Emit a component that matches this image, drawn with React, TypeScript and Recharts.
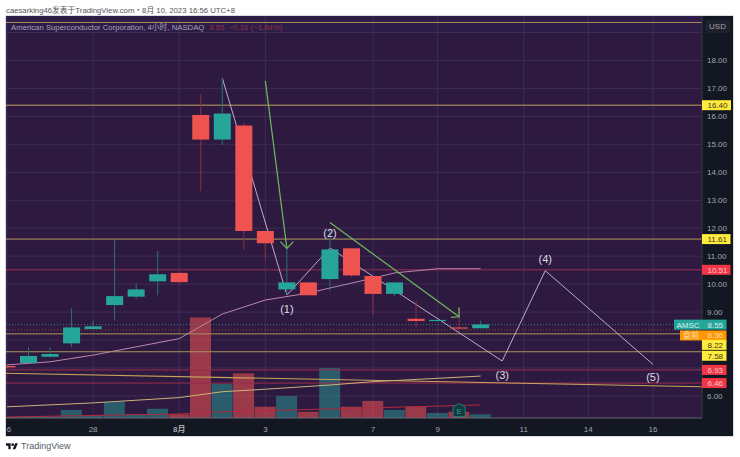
import React from "react";
import { ComposedChart, Bar, Line, XAxis, YAxis, CartesianGrid, ReferenceDot } from "recharts";

const W = 740, H = 457;
const FONT = '"Liberation Sans", "Noto Sans CJK SC", sans-serif';

const sessions = [0,1,2,3,4,5,6,7,8,9,10,11,12,13,14,15,16,17,18,19,20,21,22];
const opens = [7.07,7.18,7.40,7.88,8.39,9.25,9.55,10.10,10.40,16.05,15.17,15.67,11.90,9.81,10.06,10.18,11.28,10.29,9.65,8.76,8.68,8.45,8.42];
const closes = [7.02,7.43,7.50,8.45,8.49,9.57,9.81,10.35,10.07,15.17,16.10,11.90,11.46,10.06,9.60,11.24,10.31,9.65,10.06,8.68,8.72,8.41,8.56];
const highs = [7.07,7.74,7.74,9.13,8.69,11.58,10.03,11.18,10.44,16.79,17.37,15.77,11.90,11.33,10.06,11.94,11.30,10.29,10.06,9.41,8.73,9.14,8.69];
const lows = [7.02,7.18,7.38,7.74,8.39,8.69,9.46,9.60,10.00,13.32,14.98,11.22,10.84,9.61,9.60,9.75,10.25,8.89,9.57,8.45,8.67,8.30,8.42];
const volumes = [0.05,0.07,0.07,0.40,0.12,0.79,0.20,0.46,0.18,5.0,1.70,2.22,0.56,1.09,0.31,2.48,0.56,0.85,0.40,0.56,0.25,0.31,0.18];

const xTicks = [0,4,8,12,17,20,24,27,30];
const xLabels = ["6","28","8月","3","7","9","11","14","16"];
const yTicks = [6,9,10,11,12,13,14,15,16,17,18];
const yGrid = [6,7,8,9,10,11,12,13,14,15,16,17,18,19];

const maFastI = [0,2,4,8,10,12,14,15,17,18,20,22];
const maFastP = [7.11,7.22,7.46,8.05,8.93,9.43,9.68,9.86,10.21,10.40,10.55,10.55];
const maSlowI = [0,4,8,10,12,15,17,22];
const maSlowP = [5.61,5.75,5.94,6.15,6.24,6.39,6.51,6.71];
const volMaI = [0,8,10,15,22];
const volMaV = [0.05,0.2,0.31,0.45,0.65];
const trendI = [-0.05,32.28];
const trendP = [6.81,6.33];
const waveI = [10,13,15,23,25,30];
const waveP = [17.37,9.61,11.29,7.25,10.48,7.13];
const arrow1I = [12,13];
const arrow1P = [17.27,11.28];
const head1I = [12.7,13,13.3];
const head1P = [11.52,11.28,11.52];
const arrow2I = [15,21];
const arrow2P = [12.20,8.83];
const head2I = [20.99,21,20.62];
const head2P = [9.17,8.83,8.81];

const waveLabelI = [13,15,23,25,30];
const waveLabelP = [9.10,11.84,6.74,10.88,6.68];
const waveLabelT = ["(1)","(2)","(3)","(4)","(5)"];

const levelP = [19.36,16.40,11.61,10.51,8.22,7.58,6.93,6.46];
const levelC = ["#ab915c","#bda05c","#b0965c","#9c2c4e","#ab925c","#ab925c","#9c2c4e","#9c2c4e"];

const tagP = [16.40,11.61,10.51,8.55,8.36,8.22,7.58,6.93,6.46];
const tagT = ["16.40","11.61","10.51","8.55","8.36","8.22","7.58","6.93","6.46"];
const tagBg = ["#ffeb3b","#ffeb3b","#f23645","#26a69a","#ff9800","#ffeb3b","#ffeb3b","#f23645","#f23645"];
const tagFg = ["#3a3520","#3a3520","#f3c9cd","#d5efec","#fbdcb4","#3a3520","#3a3520","#f3c9cd","#f3c9cd"];
const tagW = [29,28.5,28.5,24.5,24.5,24.5,24.5,24.5,24.5];
const tagShift = [0,0,0,0,5.5,11,4,0,0];
const tagName = ["","","","AMSC","盘前","","","",""];

const candles = sessions.map((i, k) => ({
  i, open: opens[k], close: closes[k], high: highs[k], low: lows[k], vol: volumes[k],
  range: [lows[k], highs[k]],
}));
const zip = (a: number[], b: number[]) => a.map((i, k) => ({ i, p: b[k] }));

const RED = "#ef5350", TEAL = "#26a69a";
const BODY_W = 17;

function Candle(props: any) {
  const { x, y, width, height, payload } = props;
  const o = Number(payload.open), c = Number(payload.close), hp = Number(payload.high), lp = Number(payload.low);
  const hi = Math.min(y, y + height);
  const full = Math.abs(height);
  const k = full / (hp - lp);
  const top = hi + (hp - Math.max(o, c)) * k;
  const h = Math.max(1.2, Math.abs(o - c) * k);
  const up = c >= o;
  const cx = x + (width || 0) / 2;
  return (
    <g>
      <path d={`M${cx} ${hi}V${hi + full}`} stroke={up ? "#2b6f7c" : "#8f2c48"} strokeWidth={1} fill="none" />
      <path d={`M${cx - BODY_W / 2} ${top}h${BODY_W}v${h}h${-BODY_W}Z`} fill={up ? TEAL : RED} stroke="none" />
    </g>
  );
}

function VolBar(props: any) {
  const { x, y, width, height, payload } = props;
  const up = payload.close >= payload.open;
  return <rect x={x} y={y} width={width} height={height} fill={up ? "rgba(38,166,154,0.48)" : "rgba(242,83,80,0.55)"} />;
}

function Tag(props: any) {
  const { cx, cy, k } = props;
  const yc = cy + tagShift[k];
  const bh = 10;
  return (
    <g style={{ fontFamily: FONT }}>
      {tagName[k] ? (
        <g>
          <rect x={cx - (k === 3 ? 28 : 22)} y={yc - bh / 2} width={k === 3 ? 28 : 22} height={bh} fill={tagBg[k]} />
          <text x={cx - (k === 3 ? 14 : 11)} y={yc + 3} fontSize={8} textAnchor="middle" fill={tagFg[k]}>{tagName[k]}</text>
        </g>
      ) : null}
      <rect x={cx} y={yc - bh / 2} width={tagW[k]} height={bh} fill={tagBg[k]} />
      <text x={cx + 5.5} y={yc + 3} fontSize={8} fill={tagFg[k]}>{tagT[k]}</text>
    </g>
  );
}

function XTick(props: any) {
  const { x, y, payload, index } = props;
  const k = xTicks.indexOf(payload.value);
  return (
    <text x={k === 0 ? x + 2 : x} y={y + 6} textAnchor="middle" fontSize={8} fontFamily={FONT}
      fontWeight={xLabels[k] === "8月" ? 700 : 400} fill="#a3a6b0" key={index}>
      {xLabels[k]}
    </text>
  );
}

function EarnBadge(props: any) {
  const { cx, cy } = props;
  const d = `M${cx} ${cy - 7} L${cx + 6} ${cy - 3.5} L${cx + 6} ${cy + 6} L${cx - 6} ${cy + 6} L${cx - 6} ${cy - 3.5} Z`;
  return (
    <g>
      <path d={d} fill="#123a3f" stroke="#1c7f76" strokeWidth={1} />
      <text x={cx} y={cy + 3.2} fontSize={8} textAnchor="middle" fill="#26a69a" fontFamily={FONT}>E</text>
    </g>
  );
}

function WaveLabel(props: any) {
  const { cx, cy, k } = props;
  return <text x={cx} y={cy} fontSize={11} textAnchor="middle" dominantBaseline="central" fill="#dcdce4" fontFamily={FONT}>{waveLabelT[k]}</text>;
}

const thin = { isAnimationActive: false, dot: false, activeDot: false, legendType: "none" as const };

export default function App() {
  const abs = (l: number, t: number, w: number, h: number, extra: any = {}) => ({
    position: "absolute" as const, left: l, top: t, width: w, height: h, ...extra,
  });
  return (
    <div style={abs(0, 0, W, H, { background: "#fff", fontFamily: FONT, overflow: "hidden" })}>
      <div style={{ position: "absolute", left: 6, top: 6, fontSize: 7.75, color: "#555", whiteSpace: "nowrap", lineHeight: "10px" }}>
        caesarking46发表于TradingView.com・8月 10, 2023 16:56 UTC+8
      </div>
      <div style={abs(6, 16, 727, 420, { background: "#2e1a40", boxShadow: "0 0 0 0.5px #b9b7c6" })} />
      <div style={abs(702, 16, 31, 420, { background: "#131722" })} />
      <div style={abs(6, 418, 727, 18, { background: "#131722" })} />
      <div style={abs(6, 16, 696, 16, { background: "rgba(40,35,85,0.35)" })} />
      <ComposedChart
        width={W} height={H} data={candles}
        margin={{ top: 16, right: 7, bottom: 22, left: 6 }}
        style={{ position: "absolute", left: 0, top: 0 }}
      >
        <CartesianGrid yAxisId="price" xAxisId="main" stroke="#43315a" strokeWidth={0.8} horizontalValues={yGrid} verticalValues={xTicks} />
        <XAxis xAxisId="main" dataKey="i" type="number" domain={[-0.046, 32.28]} ticks={xTicks} interval={0}
          height={17} tick={<XTick />} tickLine={false} axisLine={{ stroke: "#6a6878" }} allowDataOverflow />
        <XAxis xAxisId="vol" dataKey="i" type="number" domain={[-0.046, 32.28]} hide allowDataOverflow />
        <YAxis yAxisId="price" orientation="right" domain={[5.21, 19.59]} ticks={yTicks} interval={0} width={31}
          tickFormatter={(v: number) => v.toFixed(2)} tick={{ fontSize: 8, fill: "#a3a6b0", fontFamily: FONT, dx: -3 }}
          tickLine={false} axisLine={{ stroke: "#3a3a46" }} allowDataOverflow />
        <YAxis yAxisId="volume" domain={[0, 20]} hide allowDataOverflow />

        <Bar xAxisId="vol" yAxisId="volume" dataKey="vol" barSize={21} shape={<VolBar />} isAnimationActive={false} />

        {levelP.map((p, k) => (
          <Line key={"lvl" + k} xAxisId="main" yAxisId="price" data={[{ i: -0.046, p }, { i: 32.28, p }]} dataKey="p"
            stroke={levelC[k]} strokeWidth={1} {...thin} />
        ))}
        <Line xAxisId="main" yAxisId="price" data={[{ i: -0.046, p: 8.55 }, { i: 32.28, p: 8.55 }]} dataKey="p" stroke="#3f8f92" strokeWidth={0.8} strokeDasharray="1 2" {...thin} />
        <Line xAxisId="main" yAxisId="price" data={[{ i: -0.046, p: 8.36 }, { i: 32.28, p: 8.36 }]} dataKey="p" stroke="#b3503f" strokeWidth={0.8} strokeDasharray="1 2" {...thin} />

        <Line xAxisId="main" yAxisId="price" data={zip(trendI, trendP)} dataKey="p" stroke="#c8a45c" strokeWidth={1.1} {...thin} />
        <Line xAxisId="main" yAxisId="price" data={zip(maSlowI, maSlowP)} dataKey="p" stroke="#cdb27b" strokeWidth={1} {...thin} />
        <Line xAxisId="main" yAxisId="price" data={zip(maFastI, maFastP)} dataKey="p" stroke="#bd86ab" strokeWidth={1} {...thin} />
        <Line xAxisId="vol" yAxisId="volume" data={zip(volMaI, volMaV)} dataKey="p" stroke="#b12a3e" strokeWidth={1} {...thin} />
        <Line xAxisId="main" yAxisId="price" data={zip(waveI, waveP)} dataKey="p" stroke="#cdbcd6" strokeWidth={0.9} {...thin} />

        <Bar xAxisId="main" yAxisId="price" dataKey="range" barSize={17} shape={<Candle />} isAnimationActive={false} {...({ zIndex: 450 } as any)} />

        <Line xAxisId="main" yAxisId="price" data={zip(arrow1I, arrow1P)} dataKey="p" stroke="#6dbb5e" strokeWidth={1.2} {...thin} {...({ zIndex: 500 } as any)} />
        <Line xAxisId="main" yAxisId="price" data={zip(head1I, head1P)} dataKey="p" stroke="#6dbb5e" strokeWidth={1.2} {...thin} {...({ zIndex: 500 } as any)} />
        <Line xAxisId="main" yAxisId="price" data={zip(arrow2I, arrow2P)} dataKey="p" stroke="#6dbb5e" strokeWidth={1.2} {...thin} {...({ zIndex: 500 } as any)} />
        <Line xAxisId="main" yAxisId="price" data={zip(head2I, head2P)} dataKey="p" stroke="#6dbb5e" strokeWidth={1.2} {...thin} {...({ zIndex: 500 } as any)} />

        {waveLabelI.map((i, k) => (
          <ReferenceDot key={"w" + k} xAxisId="main" yAxisId="price" x={i} y={waveLabelP[k]} r={0} shape={<WaveLabel k={k} />} {...({ zIndex: 600 } as any)} />
        ))}
        <ReferenceDot xAxisId="main" yAxisId="price" x={21} y={5.48} shape={<EarnBadge />} {...({ zIndex: 600 } as any)} />
        {tagP.map((p, k) => (
          <ReferenceDot key={"t" + k} xAxisId="main" yAxisId="price" x={32.28} y={p} shape={<Tag k={k} />} {...({ zIndex: 600 } as any)} />
        ))}
      </ComposedChart>

      <div style={{ position: "absolute", left: 11, top: 23, fontSize: 7.75, lineHeight: "10px", color: "#a9a2ba", whiteSpace: "nowrap" }}>
        American Superconductor Corporation, 4小时, NASDAQ
        <span style={{ color: "#96304a", marginLeft: 5 }}>8.55&nbsp; −0.16 (−1.84%)</span>
      </div>
      <div style={abs(705, 20, 25, 13, { background: "#1e222d", borderRadius: 2, color: "#a3a6b0", fontSize: 8, lineHeight: "13px", textAlign: "center" })}>USD</div>
      <svg style={{ position: "absolute", left: 6, top: 442 }} width={12} height={8} viewBox="0 0 36 24">
        <path d="M14 22H7V11H0V4h14v18zM28 22h-8l7.5-18h8L28 22z" fill="#131722" />
        <circle cx="20" cy="8" r="4" fill="#131722" />
      </svg>
      <div style={{ position: "absolute", left: 21, top: 441, fontSize: 9, lineHeight: "11px", color: "#555a66" }}>TradingView</div>
    </div>
  );
}
